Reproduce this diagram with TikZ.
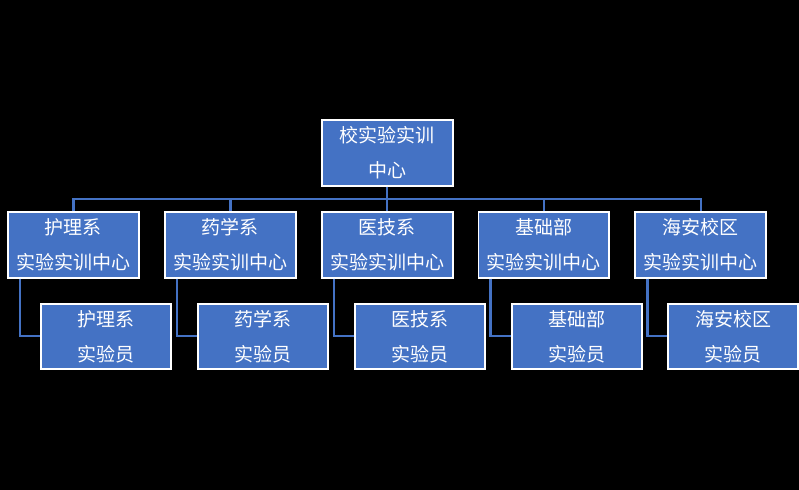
\documentclass[tikz,border=0pt]{standalone}
\usepackage{fontspec}
\newfontfamily\cjk{Noto Sans CJK SC}
\definecolor{boxblue}{RGB}{68,114,196}

\begin{document}
\begin{tikzpicture}[x=1pt,y=-1pt,
        unit/.style={draw=white, line width=1.6pt, fill=boxblue, text=white, align=center,
            inner sep=0pt, minimum width=131pt, minimum height=66pt,
            font=\cjk\fontsize{19}{35}\selectfont},
        staff/.style={unit, minimum width=130pt, minimum height=65pt},
        link/.style={draw=boxblue, line width=2.2pt}]
        \fill[black] (0,0) rectangle (799,490);
        % top
        \node[unit] (top) at (387.5,153) {校实验实训\\中心};
        % departments
        \node[unit] (a1) at (73.5,245) {护理系\\实验实训中心};
        \node[unit] (a2) at (230.5,245) {药学系\\实验实训中心};
        \node[unit] (a3) at (387.5,245) {医技系\\实验实训中心};
        \node[unit] (a4) at (544,245) {基础部\\实验实训中心};
        \node[unit] (a5) at (701,245) {海安校区\\实验实训中心};
        % staff
        \node[staff] (b1) at (106,336.5) {护理系\\实验员};
        \node[staff] (b2) at (263,336.5) {药学系\\实验员};
        \node[staff] (b3) at (420,336.5) {医技系\\实验员};
        \node[staff] (b4) at (577,336.5) {基础部\\实验员};
        \node[staff] (b5) at (733.5,336.5) {海安校区\\实验员};
        % bus
        \coordinate (bus) at (387.5,199);
        \draw[link] (top.south) -- (bus);
        \draw[link] (a1.north) |- (bus) -| (a5.north);
        \draw[link] (a2.north) -- (a2.north |- bus);
        \draw[link] (a3.north) -- (a3.north |- bus);
        \draw[link] (a4.north) -- (a4.north |- bus);
        % staff links
        \draw[link] ([xshift=13pt]a1.south west) |- (b1.west);
        \draw[link] ([xshift=13pt]a2.south west) |- (b2.west);
        \draw[link] ([xshift=13pt]a3.south west) |- (b3.west);
        \draw[link] ([xshift=13pt]a4.south west) |- (b4.west);
        \draw[link] ([xshift=13pt]a5.south west) |- (b5.west);
    \end{tikzpicture}
\end{document}
